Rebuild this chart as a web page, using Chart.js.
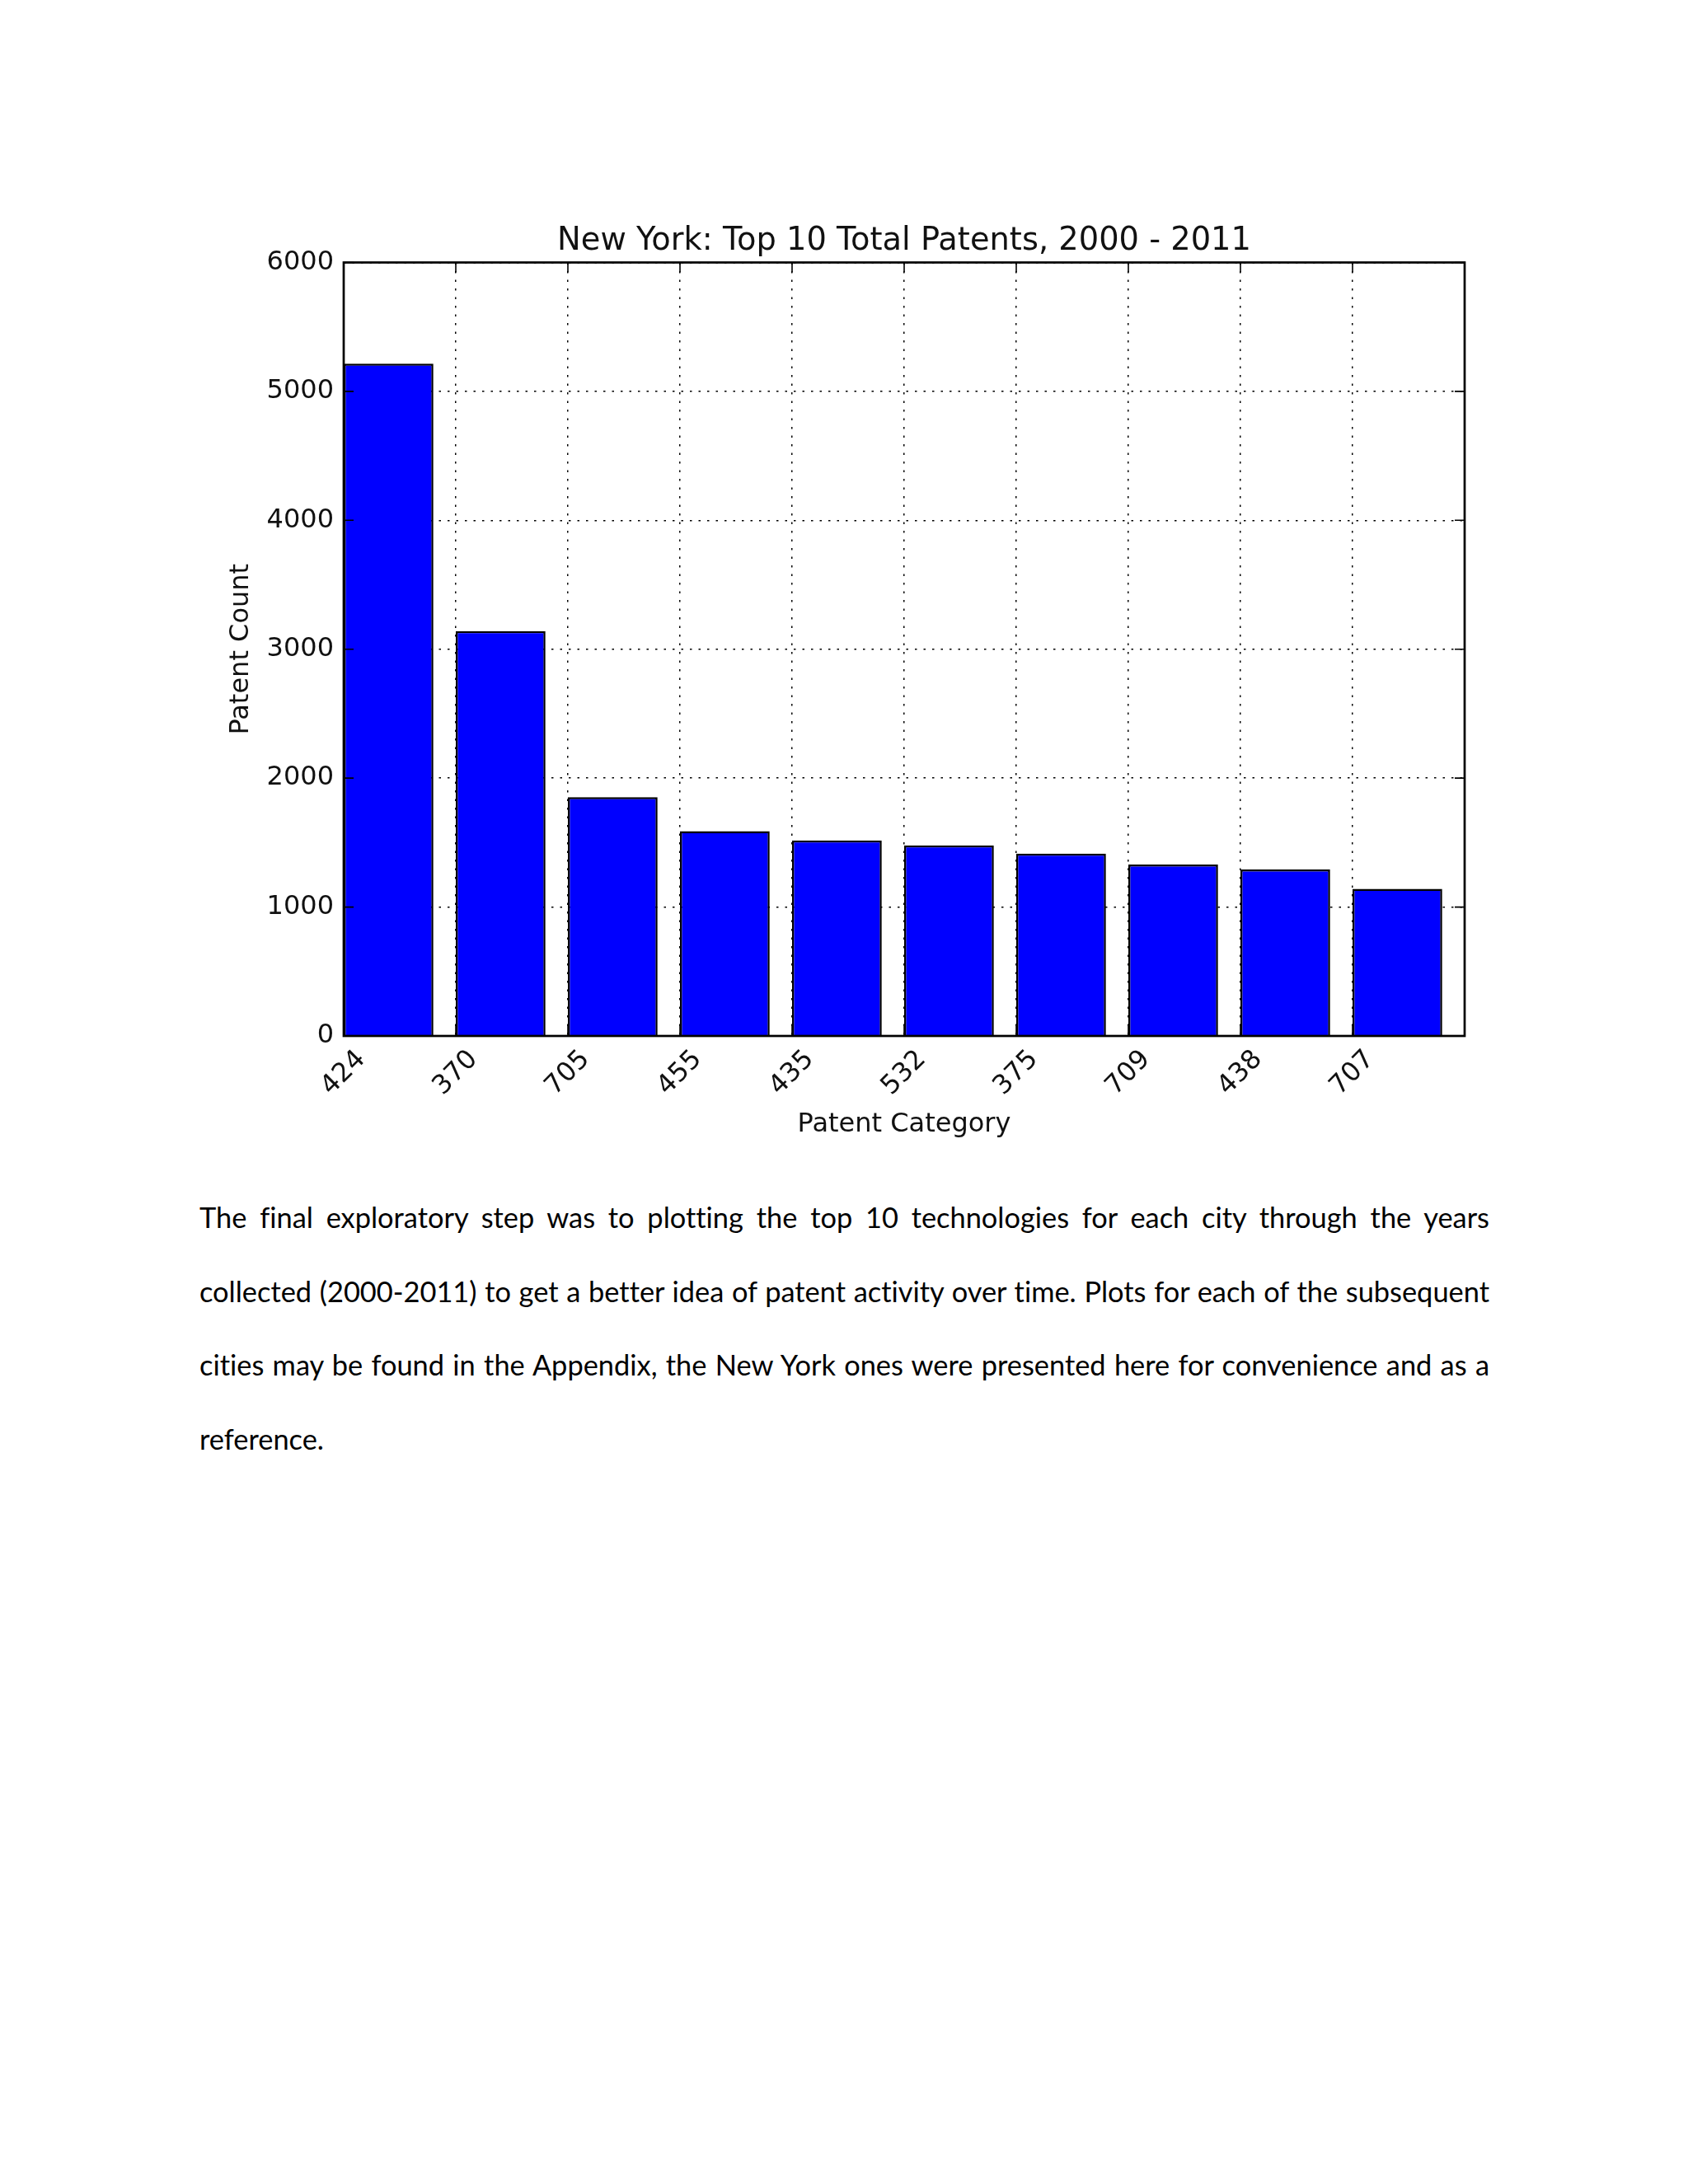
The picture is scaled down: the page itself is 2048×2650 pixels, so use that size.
<!DOCTYPE html>
<html>
<head>
<meta charset="utf-8">
<title>New York: Top 10 Total Patents, 2000 - 2011</title>
<script src="https://cdn.jsdelivr.net/npm/chart.js@4.4.1/dist/chart.umd.min.js"></script>
<style>
  html, body { margin: 0; padding: 0; background: #fff; }
  body { width: 2048px; height: 2650px; position: relative; overflow: hidden; }
  #chart-wrap { position: absolute; left: 0; top: 0; width: 2048px; height: 1420px; }
  .report-text {
    position: absolute;
    left: 242px;
    top: 1432px;
    width: 1565px;
    font-family: Lato, "Open Sans", sans-serif;
    font-size: 34.4px;
    font-variant-ligatures: none;
    line-height: 89.5px;
    color: #000;
  }
  .report-text div { text-align: justify; text-align-last: justify; }
  .report-text div.last { text-align-last: left; }
</style>
</head>
<body>
<div id="chart-wrap"><canvas id="patent-chart" width="2048" height="1420"></canvas></div>

<div class="report-text">
  <div>The final exploratory step was to plotting the top 10 technologies for each city through the years</div>
  <div>collected (2000-2011) to get a better idea of patent activity over time. Plots for each of the subsequent</div>
  <div>cities may be found in the Appendix, the New York ones were presented here for convenience and as a</div>
  <div class="last">reference.</div>
</div>

<script>
// Patent categories, in the order they are plotted
const categories = ['424', '370', '705', '455', '435', '532', '375', '709', '438', '707'];
// Total patent count per category
const patentCounts = [5215, 3140, 1852, 1588, 1517, 1479, 1415, 1329, 1291, 1141];
// Y axis tick values
const yTickValues = [0, 1000, 2000, 3000, 4000, 5000, 6000];

const BAR_WIDTH = 0.8;   // matplotlib style bars, left edge on the tick
const FONT = '"DejaVu Sans", sans-serif';

/**
 * Draws the black frame round the plot and the short inward ticks
 */
const framePlugin = {
  id: 'frame',
  afterDraw(chart) {
    const { ctx, chartArea: a, scales } = chart;
    const tick = 12;
    ctx.save();
    ctx.strokeStyle = '#000';
    ctx.lineWidth = 1.6;
    ctx.beginPath();
    scales.x.ticks.forEach(t => {
      const px = scales.x.getPixelForValue(t.value);
      ctx.moveTo(px, a.bottom); ctx.lineTo(px, a.bottom - tick);
      ctx.moveTo(px, a.top); ctx.lineTo(px, a.top + tick);
    });
    scales.y.ticks.forEach(t => {
      const py = scales.y.getPixelForValue(t.value);
      ctx.moveTo(a.left, py); ctx.lineTo(a.left + tick, py);
      ctx.moveTo(a.right, py); ctx.lineTo(a.right - tick, py);
    });
    ctx.stroke();
    ctx.lineWidth = 2.7;
    ctx.strokeRect(a.left, a.top, a.right - a.left, a.bottom - a.top);
    ctx.restore();
  }
};

class PatentChart {
  constructor(canvasId) {
    this.canvas = document.getElementById(canvasId);
    this.chart = null;
  }

  buildData() {
    return {
      datasets: [{
        label: 'Patent Count',
        data: categories.map((c, i) => ({ x: i + BAR_WIDTH / 2, y: patentCounts[i] })),
        backgroundColor: '#0000ff',
        borderColor: '#000',
        borderWidth: 2.5,
        barPercentage: BAR_WIDTH,
        categoryPercentage: 1.0,
      }]
    };
  }

  render() {
    const gridLines = { color: '#000', lineWidth: 1.5, drawTicks: false, offset: false };
    const dotted = { display: false, dash: [2.5, 8] };

    this.chart = new Chart(this.canvas.getContext('2d'), {
      type: 'bar',
      data: this.buildData(),
      plugins: [framePlugin],
      options: {
        responsive: false,
        animation: false,
        layout: { padding: { left: 273, right: 271, top: 270, bottom: 36 } },
        plugins: {
          legend: { display: false },
          tooltip: { enabled: false },
          title: {
            display: true,
            text: 'New York: Top 10 Total Patents, 2000 - 2011',
            fullSize: false,
            color: '#111',
            font: { family: FONT, size: 38.4, weight: 'normal', lineHeight: 1.2 },
            padding: { top: 0, bottom: 2.4 }
          }
        },
        scales: {
          x: {
            type: 'linear',
            min: 0,
            max: categories.length,
            offset: false,
            z: 1,
            grid: gridLines,
            border: dotted,
            afterBuildTicks: s => {
              s.ticks = categories.map((c, i) => ({ value: i })).concat([{ value: categories.length }]);
            },
            afterFit: s => { s.height = 127; },
            ticks: {
              autoSkip: false,
              minRotation: 45,
              maxRotation: 45,
              padding: 10,
              labelOffset: 21.6,
              color: '#111',
              font: { family: FONT, size: 32 },
              callback: v => categories[v] ?? ''
            },
            title: {
              display: true,
              text: 'Patent Category',
              color: '#111',
              padding: 0,
              font: { family: FONT, size: 32, lineHeight: 1.2 }
            }
          },
          y: {
            min: 0,
            max: 6000,
            z: 1,
            grid: gridLines,
            border: dotted,
            afterBuildTicks: s => { s.ticks = yTickValues.map(v => ({ value: v })); },
            afterFit: s => { s.width = 144; },
            ticks: {
              padding: 12,
              color: '#111',
              font: { family: FONT, size: 32 },
              callback: v => String(v)
            },
            title: {
              display: true,
              text: 'Patent Count',
              color: '#111',
              padding: 0,
              font: { family: FONT, size: 32, lineHeight: 1.2 }
            }
          }
        }
      }
    });
  }
}

new PatentChart('patent-chart').render();
</script>
</body>
</html>
